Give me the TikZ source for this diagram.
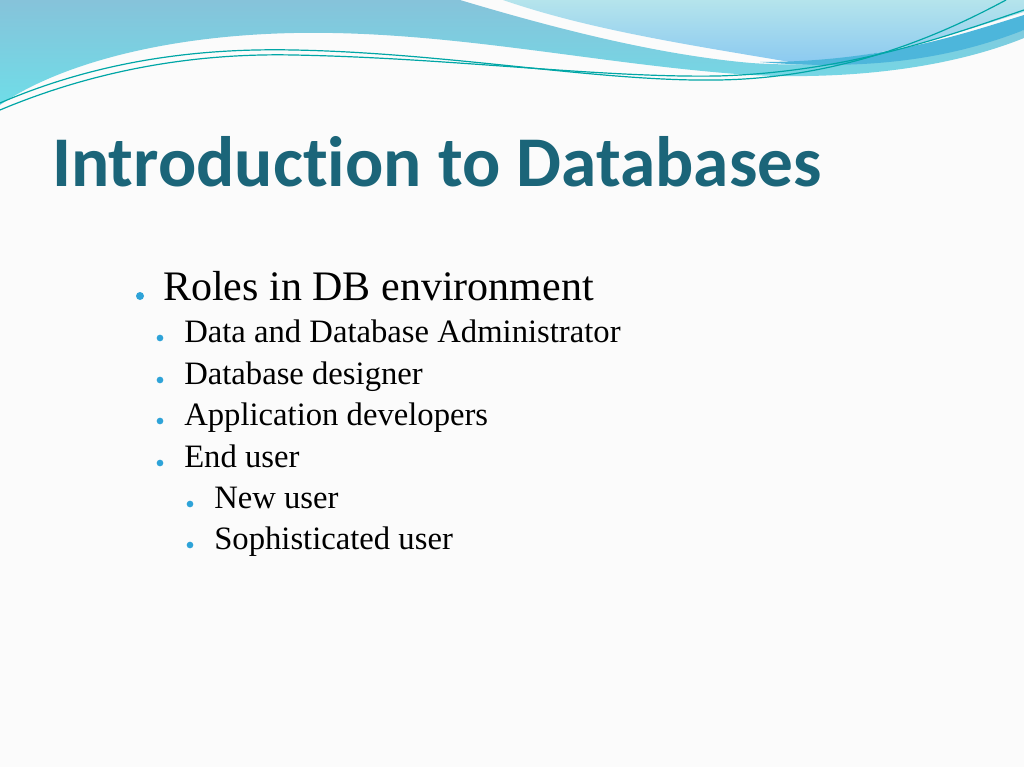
\documentclass[tikz,border=0pt]{standalone}
\usepackage{fontspec}
\setmainfont{Liberation Serif}
\newfontfamily\titlefont[Ligatures=NoCommon]{Carlito}
\begin{document}
\begin{tikzpicture}[x=0.75pt,y=-0.75pt,
  bul/.style={circle,fill=bulc,inner sep=0pt,minimum size=#1},
  lvla/.style={anchor=base west,inner sep=0pt,font=\fontsize{31.5}{34}\selectfont},
  lvlb/.style={anchor=base west,inner sep=0pt,font=\fontsize{24.5}{27}\selectfont},
  wline/.style={draw=teal!70!cyan,line width=0.9pt}]
\definecolor{titlec}{HTML}{1B6579}
\definecolor{bulc}{HTML}{2EA3D8}
\definecolor{bandtop}{HTML}{86C3DA}
\definecolor{bandbot}{HTML}{6FDDE8}
\definecolor{lighttop}{HTML}{B5E4EC}
\definecolor{lightbot}{HTML}{8CCAF0}
\definecolor{dkstrip}{HTML}{4DB6DB}
\fill[white!97!gray] (0,0) rectangle (1024,767);
\useasboundingbox (0,0) rectangle (1024,767);
% main band
\shade[top color=bandtop,bottom color=bandbot]
  (0,0) -- (460,0) .. controls (560,30) and (660,55) .. (751,63)
  .. controls (850,70) and (950,50) .. (1024,30) -- (1024,38)
  .. controls (950,68) and (850,80) .. (751,75)
  .. controls (600,65) and (450,30) .. (294,33)
  .. controls (150,36) and (50,70) .. (0,105) -- cycle;
% right light band
\shade[top color=lighttop,bottom color=lightbot]
  (503,0) -- (1024,0) -- (1024,12) .. controls (950,35) and (880,60) .. (790,62)
  .. controls (690,45) and (590,30) .. (503,0) -- cycle;
\fill[dkstrip] (760,62) .. controls (880,62) and (960,35) .. (1024,15) -- (1024,30)
  .. controls (960,55) and (880,72) .. (760,62) -- cycle;
% lines
\draw[wline] (0,103) .. controls (100,60) and (200,48) .. (294,50)
  .. controls (450,53) and (600,82) .. (718,80) .. controls (850,78) and (950,30) .. (1006,0);
\draw[wline] (0,110) .. controls (100,68) and (200,53) .. (294,55)
  .. controls (450,58) and (600,78) .. (718,76) .. controls (850,72) and (950,35) .. (1024,10);
% title
\node[anchor=base west,inner sep=0pt,text=titlec,font=\titlefont\bfseries\fontsize{53.5}{60}\selectfont] (title) at (52,186) {Introduction to Databases};
% bullets
\node[bul=6pt] (b0) at (140,296) {};
\node[lvla] (t0) at (163,300) {Roles in DB environment};
\foreach \y/\t/\n in {342/Data and Database Administrator/t1,384/Database designer/t2,425/Application developers/t3,467/End user/t4}{
  \node[bul=5pt] at (160,\y-4) {};
  \node[lvlb] (\n) at (184,\y) {\t};
}
\foreach \y/\t/\n in {508/New user/t5,549/Sophisticated user/t6}{
  \node[bul=5pt] at (190,\y-4) {};
  \node[lvlb] (\n) at (214,\y) {\t};
}
\end{tikzpicture}
\end{document}
